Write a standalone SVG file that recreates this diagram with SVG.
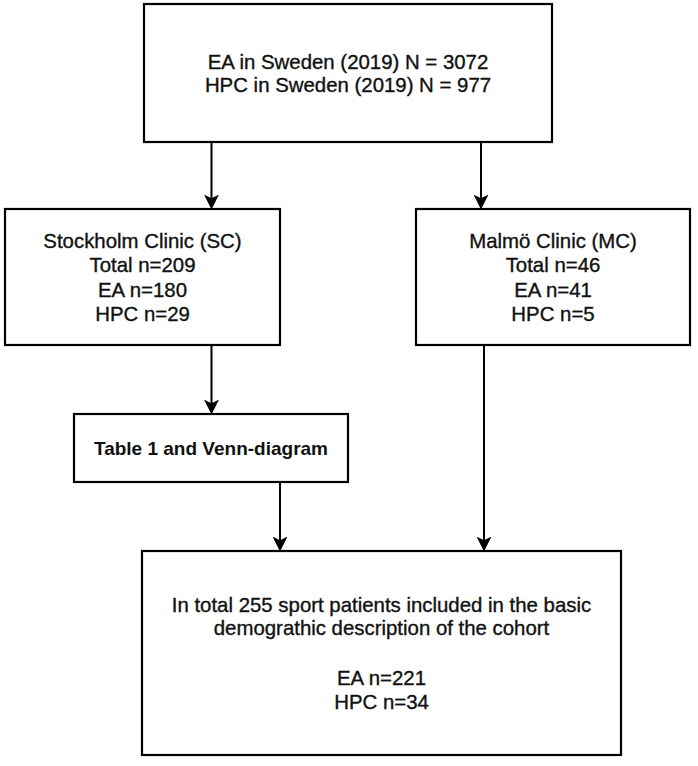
<svg xmlns="http://www.w3.org/2000/svg" width="698" height="766" viewBox="0 0 698 766">
<style>
.box{fill:#ffffff;stroke:#000000;stroke-width:2.2}
.t{font-family:"Liberation Sans",Arial,sans-serif;font-size:20.4px;fill:#111111;stroke:#111111;stroke-width:0.35;text-anchor:middle}
.tb{font-family:"Liberation Sans",Arial,sans-serif;font-size:19px;font-weight:bold;fill:#111111;text-anchor:middle}
.c{stroke:#000000;stroke-width:2;fill:none;marker-end:url(#arr)}
</style>
<defs>
<marker id="arr" viewBox="0 0 14 14" refX="6" refY="7" markerWidth="15" markerHeight="15" markerUnits="userSpaceOnUse" orient="auto">
<path d="M0,0 L14,7 L0,14 L3.5,7 Z" fill="#000000"/>
</marker>
</defs>
<rect width="698" height="766" fill="#ffffff"/>
<g id="connectors">
<line class="c" x1="211.5" y1="142" x2="211.5" y2="201"/>
<line class="c" x1="481" y1="142" x2="481" y2="201"/>
<line class="c" x1="211.5" y1="345" x2="211.5" y2="406"/>
<line class="c" x1="280" y1="482" x2="280" y2="543"/>
<line class="c" x1="484" y1="345" x2="484" y2="543"/>
</g>
<g id="sweden">
<rect class="box" x="144" y="4" width="408" height="138"/>
<text class="t" x="348" y="68.5">EA in Sweden (2019) N = 3072</text>
<text class="t" x="348" y="92">HPC in Sweden (2019) N = 977</text>
</g>
<g id="stockholm">
<rect class="box" x="5" y="209" width="275" height="136"/>
<text class="t" x="142.5" y="248">Stockholm Clinic (SC)</text>
<text class="t" x="142.5" y="272">Total n=209</text>
<text class="t" x="142.5" y="296.5">EA n=180</text>
<text class="t" x="142.5" y="320.5">HPC n=29</text>
</g>
<g id="malmo">
<rect class="box" x="416" y="209" width="274" height="136"/>
<text class="t" x="553" y="248">Malmö Clinic (MC)</text>
<text class="t" x="553" y="272">Total n=46</text>
<text class="t" x="553" y="296.5">EA n=41</text>
<text class="t" x="553" y="320.5">HPC n=5</text>
</g>
<g id="table1">
<rect class="box" x="74" y="414" width="274" height="68"/>
<text class="tb" x="211" y="455">Table 1 and Venn-diagram</text>
</g>
<g id="total">
<rect class="box" x="142" y="551" width="479" height="204"/>
<text class="t" x="381.5" y="611.5">In total 255 sport patients included in the basic</text>
<text class="t" x="381.5" y="635">demograthic description of the cohort</text>
<text class="t" x="381.5" y="685">EA n=221</text>
<text class="t" x="381.5" y="708.5">HPC n=34</text>
</g>
</svg>
